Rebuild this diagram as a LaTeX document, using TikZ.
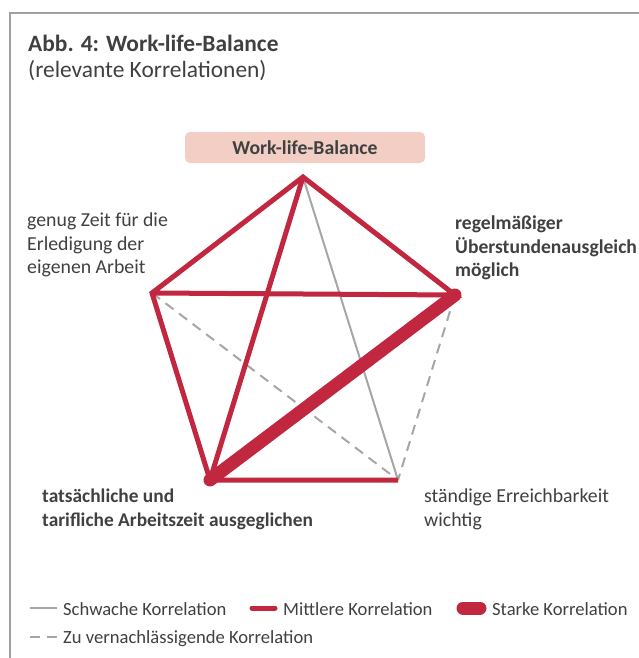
\documentclass[tikz,border=0pt]{standalone}
\usepackage{fontspec}
\setmainfont{Carlito}
\usepackage{tikz}

\definecolor{txtgray}{HTML}{404040}
\definecolor{framegray}{HTML}{A0A0A0}
\definecolor{linegray}{HTML}{A6A6A6}
\definecolor{korred}{HTML}{C1273F}
\definecolor{boxpink}{HTML}{F2CEC5}

\tikzset{
  schwach/.style={draw=linegray,line width=2pt},
  mittel/.style={draw=korred,line width=5pt},
  stark/.style={draw=korred,line width=13pt,line cap=round},
  vernachl/.style={draw=linegray,line width=2pt,dash pattern=on 10pt off 7pt},
  lbl/.style={inner sep=0pt,align=left,text=txtgray,font=\fontsize{19.8}{23.5}\selectfont},
  leg/.style={inner sep=0pt,anchor=base west,text=txtgray,font=\fontsize{18.6}{22}\selectfont}
}

\begin{document}
\begin{tikzpicture}[x=1pt,y=-1pt]
    \useasboundingbox (0,0) rectangle (639,658);
    % frame
    \draw [framegray,line width=1.5pt] (10,658) -- (10,13) -- (639,13);
    % title
    \node [inner sep=0pt,anchor=base west,text=txtgray,font=\fontsize{23.4}{27}\selectfont\bfseries] (titel) at (28,52) {Abb. 4: Work-life-Balance};
    \node [inner sep=0pt,anchor=base west,text=txtgray,font=\fontsize{23.4}{27}\selectfont] (untertitel) at (28,78) {(relevante Korrelationen)};
    % corners of the pentagon
    \coordinate (wlb) at (303,177);
    \coordinate (zeit) at (152,293);
    \coordinate (ueber) at (455,295);
    \coordinate (tarif) at (210,480);
    \coordinate (erreich) at (398,480);
    % labels
    \node [fill=boxpink,rounded corners=5pt,minimum width=240pt,minimum height=31pt,text=txtgray,font=\fontsize{19.7}{23}\selectfont\bfseries] (wlbbox) at (305,147.5) {Work-life-Balance};
    \node [lbl,anchor=north west] (zeitlbl) at (27,213) {genug Zeit für die\\Erledigung der\\eigenen Arbeit};
    \node [lbl,anchor=north west,font=\fontsize{19.6}{23.5}\selectfont\bfseries] (ueberlbl) at (455,216) {regelmäßiger\\Überstundenausgleich\\möglich};
    \node [lbl,anchor=north west,font=\fontsize{19.4}{24}\selectfont\bfseries] (tariflbl) at (42,489) {tatsächliche und\\tarifliche Arbeitszeit ausgeglichen};
    \node [lbl,anchor=north west] (erreichlbl) at (424,489) {ständige Erreichbarkeit\\wichtig};
    % correlations
    \draw [schwach] (wlb) -- (erreich);
    \draw [vernachl] (zeit) -- (erreich);
    \draw [vernachl] (ueber) -- (erreich);
    \draw [mittel] (tarif) -- (zeit) -- (wlb) -- (ueber) -- (zeit);
    \draw [mittel] (wlb) -- (tarif) -- (erreich);
    \draw [stark] (ueber) -- (tarif);
    % legend
    \coordinate (s1) at (30,608);
    \coordinate (s2) at (57,608);
    \coordinate (m1) at (252,608);
    \coordinate (m2) at (275,608);
    \coordinate (k1) at (463,608);
    \coordinate (k2) at (480,608);
    \coordinate (v1) at (30,637);
    \coordinate (v2) at (57,637);
    \draw [schwach] (s1) -- (s2);
    \draw [mittel,line cap=round] (m1) -- (m2);
    \draw [stark] (k1) -- (k2);
    \draw [vernachl] (v1) -- (v2);
    \node [leg] (schwachleg) at (63,615) {Schwache Korrelation};
    \node [leg] (mittelleg) at (283,615) {Mittlere Korrelation};
    \node [leg] (starkleg) at (492,615) {Starke Korrelation};
    \node [leg] (vernachlleg) at (63,643) {Zu vernachlässigende Korrelation};
\end{tikzpicture}
\end{document}
